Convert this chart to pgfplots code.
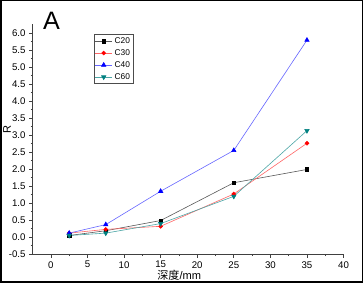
\documentclass[border=0pt]{standalone}
\usepackage{pgfplots}
\pgfplotsset{compat=1.18}
\usepackage{fontspec}
\setmainfont{Liberation Sans}
\newfontfamily\cjk{Noto Sans CJK SC}
\definecolor{cteal}{RGB}{0,128,128}
\begin{document}
\begin{tikzpicture}
\draw[line width=1.3pt] (2pt,2.5pt) rectangle (361pt,282pt);
\begin{axis}[
  at={(33.3pt,30pt)}, anchor=south west,
  scale only axis, width=309pt, height=229pt,
  xmin=-2.5, xmax=40, ymin=-0.5, ymax=6.27,
  axis x line=bottom, axis y line=left,
  axis line style={-, line width=0.6pt, black!75},
  tick style={line width=0.6pt, black!75},
  tick align=outside,
  major tick length=3.5pt, minor tick length=2pt,
  xtick={0,5,...,40}, ytick={-0.5,0,...,6.0},
  minor x tick num=1, minor y tick num=1,
  /pgf/number format/assume math mode=true,
  yticklabel style={/pgf/number format/fixed,/pgf/number format/precision=1,/pgf/number format/fixed zerofill},
  ticklabel style={font=\fontsize{9.6}{10}\selectfont},
  legend style={at={(rel axis cs:0.196,0.955)}, anchor=north west,
    draw=black!70, line width=0.5pt, font=\fontsize{8.3}{9}\selectfont,
    inner sep=1pt, row sep=0.6pt, legend cell align=left},
  every axis plot/.append style={line width=0.6pt},
]
\addplot[color=black!65, mark=square*, mark size=1.7pt, mark options={fill=black,draw=black}]
  coordinates {(2.5,0.05) (7.5,0.19) (15,0.49) (25,1.6) (35,1.99)};
\addplot[color=red!60, mark=*, mark size=1.9pt, mark options={fill=red,draw=red}]
  coordinates {(2.5,0.12) (7.5,0.23) (15,0.32) (25,1.27) (35,2.76)};
\addplot[color=blue!60, mark=triangle*, mark size=2.5pt, mark options={fill=blue,draw=blue}]
  coordinates {(2.5,0.12) (7.5,0.37) (15,1.35) (25,2.55) (35,5.79)};
\addplot[color=cteal!70, mark=triangle*, mark size=2.5pt, mark options={fill=cteal,draw=cteal,rotate=180}]
  coordinates {(2.5,0.05) (7.5,0.12) (15,0.4) (25,1.2) (35,3.13)};
\legend{C20,C30,C40,C60}
\end{axis}
\node[anchor=center, font=\fontsize{25}{26}\selectfont] at (52pt,262pt) {A};
\node[anchor=center, rotate=90, font=\fontsize{11}{12}\selectfont] at (8pt,154pt) {R};
\node[anchor=center, font=\fontsize{11}{12}\selectfont] at (179pt,9pt) {{\cjk 深度}/mm};
\end{tikzpicture}
\end{document}
